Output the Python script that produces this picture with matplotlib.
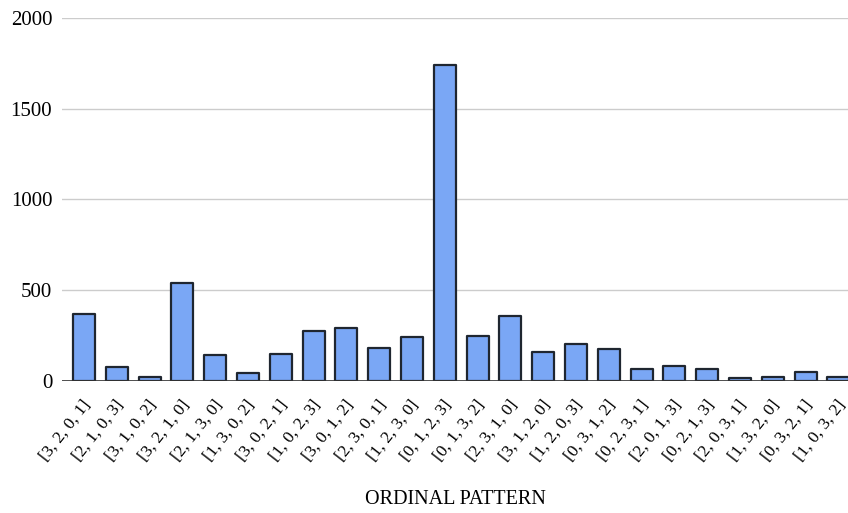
import matplotlib.pyplot as plt
import matplotlib.transforms as mtransforms
import numpy as np

# ordinal patterns and their counts
patterns = ['[3, 2, 0, 1]', '[2, 1, 0, 3]', '[3, 1, 0, 2]', '[3, 2, 1, 0]',
            '[2, 1, 3, 0]', '[1, 3, 0, 2]', '[3, 0, 2, 1]', '[1, 0, 2, 3]',
            '[3, 0, 1, 2]', '[2, 3, 0, 1]', '[1, 2, 3, 0]', '[0, 1, 2, 3]',
            '[0, 1, 3, 2]', '[2, 3, 1, 0]', '[3, 1, 2, 0]', '[1, 2, 0, 3]',
            '[0, 3, 1, 2]', '[0, 2, 3, 1]', '[2, 0, 1, 3]', '[0, 2, 1, 3]',
            '[2, 0, 3, 1]', '[1, 3, 2, 0]', '[0, 3, 2, 1]', '[1, 0, 3, 2]']
counts = [366, 74, 22, 537, 140, 41, 149, 274,
          289, 182, 239, 1740, 248, 358, 158, 200,
          175, 66, 83, 66, 13, 22, 46, 20]
y_ticks = [0, 500, 1000, 1500, 2000]

plt.rcParams['font.family'] = ['Liberation Serif', 'DejaVu Serif']

fig = plt.figure(figsize=(8.48, 5.13), dpi=100)
ax = fig.add_axes([62 / 848, 1 - 380.7 / 513, 1 - 62 / 848, (380.7 - 18) / 513])

x = np.arange(len(patterns))
ax.bar(x, counts, width=0.67, color='#7aa7f5', edgecolor='#1f2630',
       linewidth=1.6, joinstyle='round', zorder=3)

ax.set_ylim(0, 2000)
ax.set_xlim(-0.67, 23.29)
ax.set_yticks(y_ticks)
ax.set_yticklabels([str(v) for v in y_ticks], fontsize=15)
ax.grid(axis='y', color='#cccccc', linewidth=1.0, zorder=0)
ax.axhline(0, color='#333333', linewidth=1.2, zorder=4)

for s in ax.spines.values():
    s.set_visible(False)
ax.tick_params(axis='both', length=0)
ax.tick_params(axis='y', pad=7)

ax.set_xticks(x)
ax.set_xticklabels(patterns, rotation=52, ha='right', va='center',
                   rotation_mode='anchor', fontsize=12.5)
ax.tick_params(axis='x', pad=15)
# nudge the slanted labels a little to the right
shift = mtransforms.ScaledTranslation(4 / 100, 0, fig.dpi_scale_trans)
for lab in ax.get_xticklabels():
    lab.set_transform(lab.get_transform() + shift)

fig.text((62 + 848) / 2 / 848, 1 - 499 / 513, 'ORDINAL PATTERN',
         fontsize=14.5, ha='center', va='center')

fig.savefig('out.png', dpi=100)
